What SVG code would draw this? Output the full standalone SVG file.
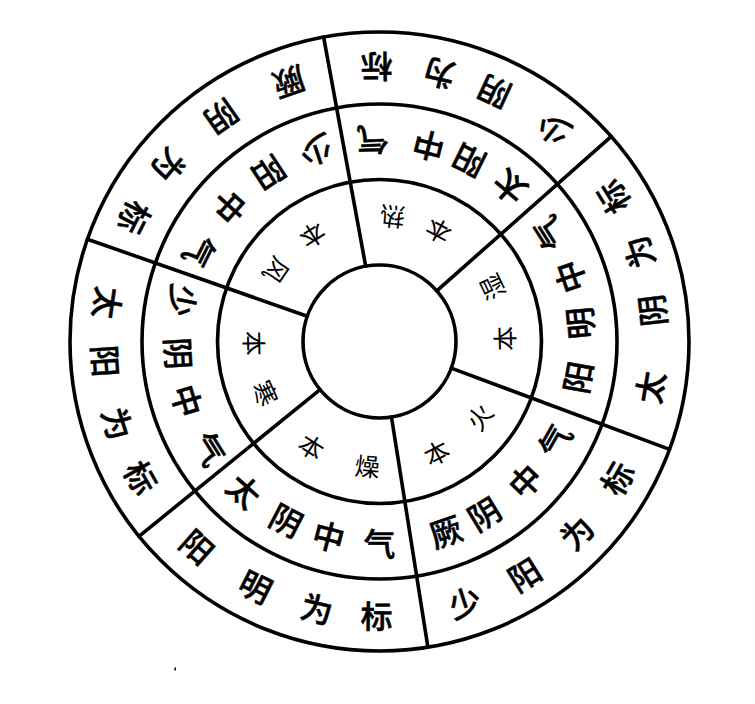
<svg xmlns="http://www.w3.org/2000/svg" width="755" height="704" viewBox="0 0 755 704">
<style>
.ring{fill:none;stroke:#000;stroke-width:3.6}
.div{stroke:#000;stroke-width:3.6;stroke-linecap:round}
text{font-family:"Noto Sans CJK SC","Noto Sans CJK TC",sans-serif;fill:#000;text-anchor:middle;dominant-baseline:central}
.o{font-size:32px;font-weight:500;stroke:#000;stroke-width:0.5}
.m{font-size:32px;font-weight:500;stroke:#000;stroke-width:0.5}
.i{font-size:25px}
</style>
<rect width="755" height="704" fill="#fff"/>
<g id="rings">
<circle class="ring" cx="379.5" cy="341.5" r="309.5"/>
<circle class="ring" cx="379.5" cy="341.5" r="237.5"/>
<circle class="ring" cx="379.5" cy="341.5" r="162"/>
<circle class="ring" cx="379.5" cy="341.5" r="76.5"/>
</g>
<g id="connectors">
<line class="div" x1="76.5" y1="0" x2="309.5" y2="0" transform="translate(379.5 341.5) rotate(-100.4)"/>
<line class="div" x1="76.5" y1="0" x2="309.5" y2="0" transform="translate(379.5 341.5) rotate(199.3)"/>
<line class="div" x1="76.5" y1="0" x2="309.5" y2="0" transform="translate(379.5 341.5) rotate(-41.5)"/>
<line class="div" x1="76.5" y1="0" x2="309.5" y2="0" transform="translate(379.5 341.5) rotate(20.4)"/>
<line class="div" x1="76.5" y1="0" x2="309.5" y2="0" transform="translate(379.5 341.5) rotate(81)"/>
<line class="div" x1="76.5" y1="0" x2="309.5" y2="0" transform="translate(379.5 341.5) rotate(141)"/>
</g>
<g id="shaoyin">
<text class="o" transform="translate(379.5 341.5) rotate(-50.7) translate(273 0) rotate(-90)">少</text>
<text class="o" transform="translate(379.5 341.5) rotate(-65.3) translate(273 0) rotate(-90)">阴</text>
<text class="o" transform="translate(379.5 341.5) rotate(-77.4) translate(273 0) rotate(-90)">为</text>
<text class="o" transform="translate(379.5 341.5) rotate(-90.6) translate(273 0) rotate(-90)">标</text>
<text class="m" transform="translate(379.5 341.5) rotate(-49.8) translate(200 0) rotate(-90)">太</text>
<text class="m" transform="translate(379.5 341.5) rotate(-63.7) translate(200 0) rotate(-90)">阳</text>
<text class="m" transform="translate(379.5 341.5) rotate(-75.9) translate(200 0) rotate(-90)">中</text>
<text class="m" transform="translate(379.5 341.5) rotate(-92) translate(200 0) rotate(-90)">气</text>
<text class="i" transform="translate(379.5 341.5) rotate(-62) translate(124 0) rotate(-90)">本</text>
<text class="i" transform="translate(379.5 341.5) rotate(-84) translate(124 0) rotate(-90)">热</text>
</g>
<g id="taiyin">
<text class="o" transform="translate(379.5 341.5) rotate(9.6) translate(273 0) rotate(-90)">太</text>
<text class="o" transform="translate(379.5 341.5) rotate(-6.5) translate(273 0) rotate(-90)">阴</text>
<text class="o" transform="translate(379.5 341.5) rotate(-19) translate(273 0) rotate(-90)">为</text>
<text class="o" transform="translate(379.5 341.5) rotate(-31.7) translate(273 0) rotate(-90)">标</text>
<text class="m" transform="translate(379.5 341.5) rotate(10.2) translate(200 0) rotate(-90)">阳</text>
<text class="m" transform="translate(379.5 341.5) rotate(-5.2) translate(200 0) rotate(-90)">明</text>
<text class="m" transform="translate(379.5 341.5) rotate(-18.8) translate(200 0) rotate(-90)">中</text>
<text class="m" transform="translate(379.5 341.5) rotate(-32.5) translate(200 0) rotate(-90)">气</text>
<text class="i" transform="translate(379.5 341.5) rotate(-1.4) translate(124 0) rotate(-90)">本</text>
<text class="i" transform="translate(379.5 341.5) rotate(-25.7) translate(124 0) rotate(-90)">湿</text>
</g>
<g id="shaoyang">
<text class="o" transform="translate(379.5 341.5) rotate(71.9) translate(273 0) rotate(-90)">少</text>
<text class="o" transform="translate(379.5 341.5) rotate(58.1) translate(273 0) rotate(-90)">阳</text>
<text class="o" transform="translate(379.5 341.5) rotate(44.1) translate(273 0) rotate(-90)">为</text>
<text class="o" transform="translate(379.5 341.5) rotate(29.9) translate(273 0) rotate(-90)">标</text>
<text class="m" transform="translate(379.5 341.5) rotate(70.8) translate(200 0) rotate(-90)">厥</text>
<text class="m" transform="translate(379.5 341.5) rotate(58.7) translate(200 0) rotate(-90)">阴</text>
<text class="m" transform="translate(379.5 341.5) rotate(43.8) translate(200 0) rotate(-90)">中</text>
<text class="m" transform="translate(379.5 341.5) rotate(29.6) translate(200 0) rotate(-90)">气</text>
<text class="i" transform="translate(379.5 341.5) rotate(62.8) translate(124 0) rotate(-90)">本</text>
<text class="i" transform="translate(379.5 341.5) rotate(37) translate(124 0) rotate(-90)">火</text>
</g>
<g id="yangming">
<text class="o" transform="translate(379.5 341.5) rotate(131.6) translate(273 0) rotate(-90)">阳</text>
<text class="o" transform="translate(379.5 341.5) rotate(116.8) translate(273 0) rotate(-90)">明</text>
<text class="o" transform="translate(379.5 341.5) rotate(103.2) translate(273 0) rotate(-90)">为</text>
<text class="o" transform="translate(379.5 341.5) rotate(90.6) translate(273 0) rotate(-90)">标</text>
<text class="m" transform="translate(379.5 341.5) rotate(132.2) translate(200 0) rotate(-90)">太</text>
<text class="m" transform="translate(379.5 341.5) rotate(117.5) translate(200 0) rotate(-90)">阴</text>
<text class="m" transform="translate(379.5 341.5) rotate(104.6) translate(200 0) rotate(-90)">中</text>
<text class="m" transform="translate(379.5 341.5) rotate(90) translate(200 0) rotate(-90)">气</text>
<text class="i" transform="translate(379.5 341.5) rotate(122.8) translate(124 0) rotate(-90)">本</text>
<text class="i" transform="translate(379.5 341.5) rotate(95.5) translate(124 0) rotate(-90)">燥</text>
</g>
<g id="taiyang">
<text class="o" transform="translate(379.5 341.5) rotate(188.1) translate(273 0) rotate(-90)">太</text>
<text class="o" transform="translate(379.5 341.5) rotate(175.9) translate(273 0) rotate(-90)">阳</text>
<text class="o" transform="translate(379.5 341.5) rotate(162.6) translate(273 0) rotate(-90)">为</text>
<text class="o" transform="translate(379.5 341.5) rotate(150.3) translate(273 0) rotate(-90)">标</text>
<text class="m" transform="translate(379.5 341.5) rotate(191.7) translate(200 0) rotate(-90)">少</text>
<text class="m" transform="translate(379.5 341.5) rotate(176.6) translate(200 0) rotate(-90)">阴</text>
<text class="m" transform="translate(379.5 341.5) rotate(162.9) translate(200 0) rotate(-90)">中</text>
<text class="m" transform="translate(379.5 341.5) rotate(147.8) translate(200 0) rotate(-90)">气</text>
<text class="i" transform="translate(379.5 341.5) rotate(179.1) translate(124 0) rotate(-90)">本</text>
<text class="i" transform="translate(379.5 341.5) rotate(155.7) translate(124 0) rotate(-90)">寒</text>
</g>
<g id="jueyin">
<text class="o" transform="translate(379.5 341.5) rotate(250.8) translate(273 0) rotate(-90)">厥</text>
<text class="o" transform="translate(379.5 341.5) rotate(234.9) translate(273 0) rotate(-90)">阴</text>
<text class="o" transform="translate(379.5 341.5) rotate(219.9) translate(273 0) rotate(-90)">为</text>
<text class="o" transform="translate(379.5 341.5) rotate(206.8) translate(273 0) rotate(-90)">标</text>
<text class="m" transform="translate(379.5 341.5) rotate(251.6) translate(200 0) rotate(-90)">少</text>
<text class="m" transform="translate(379.5 341.5) rotate(236.7) translate(200 0) rotate(-90)">阳</text>
<text class="m" transform="translate(379.5 341.5) rotate(222) translate(200 0) rotate(-90)">中</text>
<text class="m" transform="translate(379.5 341.5) rotate(206.8) translate(200 0) rotate(-90)">气</text>
<text class="i" transform="translate(379.5 341.5) rotate(237.8) translate(124 0) rotate(-90)">本</text>
<text class="i" transform="translate(379.5 341.5) rotate(214.6) translate(124 0) rotate(-90)">风</text>
</g>
<path d="M175.5 667.5 L174.8 670.5" stroke="#000" stroke-width="1.5" fill="none"/>
</svg>
